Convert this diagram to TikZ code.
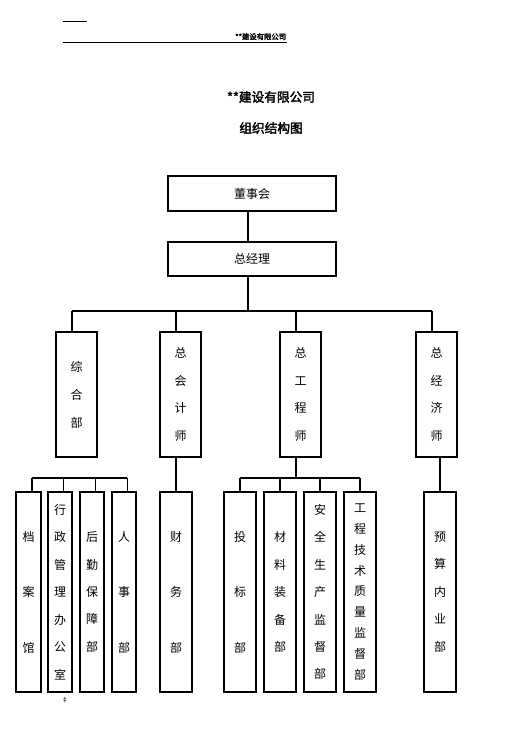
\documentclass[tikz,border=0pt]{standalone}
\usepackage{fontspec}
\newfontfamily\cjk[AutoFakeBold=2.5]{Noto Sans CJK SC}
\usetikzlibrary{positioning}

\begin{document}
\begin{tikzpicture}[
  x=0.75pt, y=-0.75pt,
  wide/.style={draw, line width=0.8pt, inner sep=0pt, minimum width=126pt, font=\cjk\fontsize{9}{11}\selectfont},
  tall/.style={draw, line width=0.8pt, inner sep=0pt, align=center, font=\cjk\fontsize{9}{#1}\selectfont},
  head/.style={tall=20.6pt, minimum width=30.75pt, minimum height=93.75pt},
  unit/.style={tall=#1, minimum height=150pt},
  link/.style={line width=0.8pt}
]
\useasboundingbox (0,0) rectangle (529,748);

% page header
\draw[line width=0.6pt] (63,21) -- (87,21);
\draw[line width=0.6pt] (63,42) -- (287,42);
\node[anchor=south east, inner sep=0.5pt, font=\cjk\bfseries\fontsize{5.5}{6}\selectfont] (hdr) at (287,41) {**建设有限公司};

% title
\node[font=\cjk\bfseries\fontsize{9.5}{11}\selectfont] (title) at (271,97) {**建设有限公司};
\node[font=\cjk\bfseries\fontsize{9.5}{11}\selectfont] (subtitle) at (271,128) {组织结构图};

% top
\node[wide, minimum height=26.25pt] (dsh) at (252,193.5) {董事会};
\node[wide, minimum height=25.5pt] (zjl) at (252,259) {总经理};

% second level
\node[head, tall=21pt] (zhb) at (76.5,394.5) {综\\合\\部};
\node[head] (zkj) at (180.5,394.5) {总\\会\\计\\师};
\node[head] (zgc) at (300.5,394.5) {总\\工\\程\\师};
\node[head] (zjj) at (436.5,394.5) {总\\经\\济\\师};

% departments
\node[unit=41.6pt, minimum width=18.75pt] (da) at (28.5,592) {档\\案\\馆};
\node[unit=20.6pt, minimum width=18pt] (xz) at (60,592) {行\\政\\管\\理\\办\\公\\室};
\node[unit=20.6pt, minimum width=18pt] (hq) at (92,592) {后\\勤\\保\\障\\部};
\node[unit=41.6pt, minimum width=18pt] (rs) at (124,592) {人\\事\\部};
\node[unit=41.6pt, minimum width=24pt] (cw) at (176,592) {财\\务\\部};
\node[unit=41.6pt, minimum width=24pt] (tb) at (240,592) {投\\标\\部};
\node[unit=20.6pt, minimum width=24pt] (cl) at (280,592) {材\\料\\装\\备\\部};
\node[unit=20.6pt, minimum width=24pt] (aq) at (320,592) {安\\全\\生\\产\\监\\督\\部};
\node[unit=15.6pt, minimum width=24pt] (gc) at (360,592) {工\\程\\技\\术\\质\\量\\监\\督\\部};
\node[unit=20.6pt, minimum width=24pt] (ys) at (440,592) {预\\算\\内\\业\\部};

\node[font=\cjk\fontsize{5}{5}\selectfont, inner sep=0pt] (mark) at (65,700) {‡};

% connectors
\coordinate (top) at (248,311);
\coordinate (hbus) at (32,478);
\coordinate (gbus) at (296,478);

\draw[link] (dsh.south -| top) -- (zjl.north -| top);
\draw[link] (zjl.south -| top) -- (top);
\draw[link] ([xshift=-3.4pt]zhb.north |- top) -- ([xshift=-3.4pt]zjj.north |- top);
\foreach \n in {zhb,zkj,zgc,zjj}
  \draw[link] ([xshift=-3.4pt]\n.north |- top) -- ([xshift=-3.4pt]\n.north);

\draw[link] ([xshift=2.6pt]da.north |- hbus) -- ([xshift=2.6pt]rs.north |- hbus);
\foreach \n in {da,xz,hq,rs}
  \draw[link] ([xshift=2.6pt]\n.north |- hbus) -- ([xshift=2.6pt]\n.north);

\draw[link] (cw.north |- zkj.south) -- (cw.north);

\draw[link] (zgc.south -| gbus) -- (gbus);
\draw[link] (tb.north |- gbus) -- (gc.north |- gbus);
\foreach \n in {tb,cl,aq,gc}
  \draw[link] (\n.north |- gbus) -- (\n.north);

\draw[link] (ys.north |- zjj.south) -- (ys.north);
\end{tikzpicture}
\end{document}
